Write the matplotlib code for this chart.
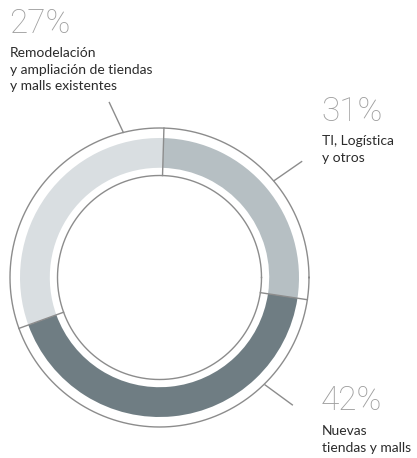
import matplotlib
matplotlib.use("Agg")
import matplotlib.pyplot as plt
import numpy as np

# Data (arc shares as drawn in the reference, clockwise from top)
categories = ["TI, Logística\ny otros", "Nuevas\ntiendas y malls", "Remodelación\ny ampliación de tiendas\ny malls existentes"]
arc_shares = [26.9, 42.1, 31.0]
pct_labels = ["31%", "42%", "27%"]
colors = ["#b6bfc3", "#6f7d83", "#d9dee1"]

W, H = 417, 458
fig = plt.figure(figsize=(W / 100, H / 100), dpi=100)
ax = fig.add_axes([0, 0, 1, 1])

cx, cy = 159.5, H - 277.5
r_outer_ring = 149.5
r_band_out = 139.5
r_band_in = 109.7
r_inner_ring = 102.0
start = 88.3
line_col = "#8c8c8c"

wedges, _ = ax.pie(arc_shares, startangle=start, counterclock=False,
                   radius=r_band_out, center=(cx, cy), colors=colors,
                   wedgeprops=dict(width=r_band_out - r_band_in, linewidth=0))

t = np.linspace(0, 2 * np.pi, 721)
for r in (r_outer_ring, r_inner_ring):
    ax.plot(cx + r * np.cos(t), cy + r * np.sin(t), color=line_col, lw=1.0)

# dividers
cum = np.concatenate([[0], np.cumsum(arc_shares)])[:-1]
for c in cum:
    a = np.deg2rad(start - c / 100 * 360)
    ax.plot([cx + r_inner_ring * np.cos(a), cx + r_outer_ring * np.cos(a)],
            [cy + r_inner_ring * np.sin(a), cy + r_outer_ring * np.sin(a)],
            color=line_col, lw=1.0)

# leader lines (angle_in, r_in, angle_out, r_out)
leaders = [(40.2, 150, 39.2, 183.4), (-45.5, 150.5, -43.8, 184), (104, 149.5, 106, 182)]
for a1, r1, a2, r2 in leaders:
    a1, a2 = np.deg2rad(a1), np.deg2rad(a2)
    ax.plot([cx + r1 * np.cos(a1), cx + r2 * np.cos(a2)],
            [cy + r1 * np.sin(a1), cy + r2 * np.sin(a2)], color=line_col, lw=1.0)

pct_col = "#9e9e9e"
lab_col = "#2b2b2b"
# (x, pct baseline, first label baseline)
text_pos = [(321, 121, 145), (321, 410.5, 435), (9, 33, 57)]
for (x, yb, yl), p, cat in zip(text_pos, pct_labels, categories):
    ax.text(x, H - yb, p, fontsize=24, color=pct_col, family="Roboto",
            fontweight=100, fontstyle="normal", ha="left", va="baseline")
    for i, line in enumerate(cat.split("\n")):
        ax.text(x + 1, H - (yl + i * 16.5), line, fontsize=10, color=lab_col,
                family="Lato", ha="left", va="baseline")

ax.set_xlim(0, W)
ax.set_ylim(0, H)
ax.set_aspect("equal")
ax.axis("off")
fig.savefig("out.png", dpi=100)
